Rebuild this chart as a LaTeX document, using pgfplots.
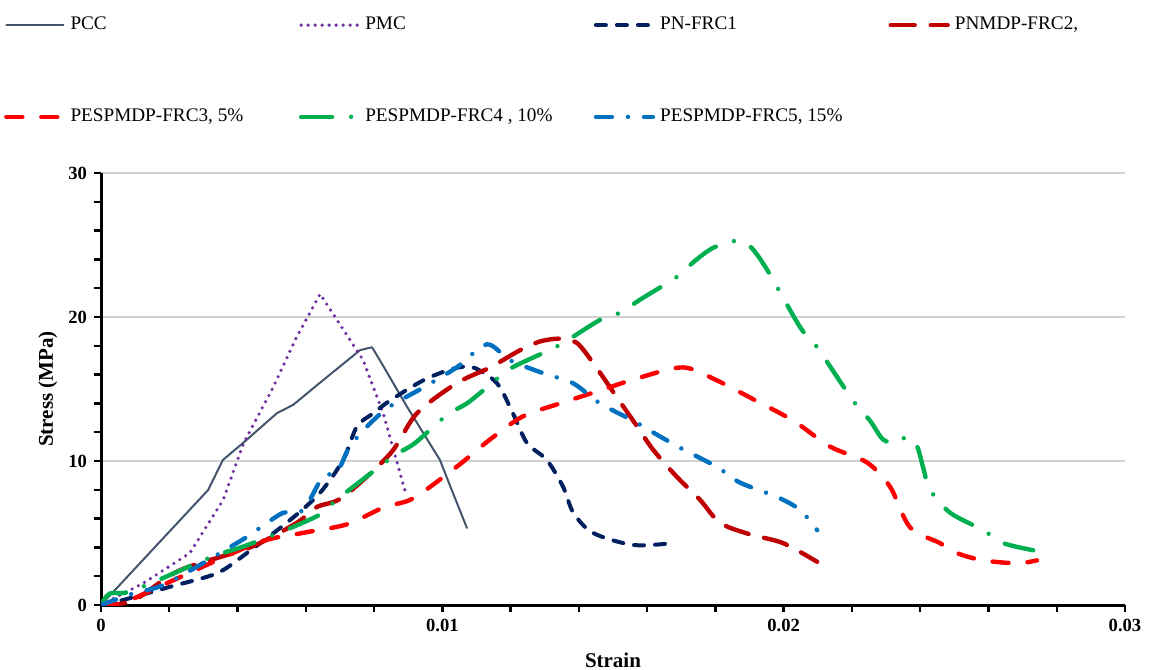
\documentclass[border=0pt]{standalone}
\usepackage{pgfplots}
\pgfplotsset{compat=1.18}
\usepackage{fontspec}
\setmainfont{Liberation Serif}
\definecolor{cPCC}{HTML}{44546A}
\definecolor{cPMC}{HTML}{7030A0}
\definecolor{cF1}{HTML}{002060}
\definecolor{cF2}{HTML}{C00000}
\definecolor{cF3}{HTML}{FF0000}
\definecolor{cF4}{HTML}{00B050}
\definecolor{cF5}{HTML}{0070C0}
\begin{document}
\begin{tikzpicture}
\useasboundingbox (-50.5pt,-32pt) rectangle (526.5pt,302.5pt);
\begin{axis}[
  at={(0pt,0pt)}, anchor=south west,
  scale only axis, width=512pt, height=216pt,
  xmin=0, xmax=0.03, ymin=0, ymax=30,
  axis x line=bottom, axis y line=left,
  axis line style={-, line width=1.5pt, black},
  scaled x ticks=false, scaled y ticks=false,
  xtick={0,0.01,0.02,0.03}, xticklabels={0,0.01,0.02,0.03},
  ytick={0,10,20,30}, yticklabels={0,10,20,30},
  minor x tick num=4, minor y tick num=4,
  tick align=outside,
  major tick length=3.5pt, minor tick length=3.5pt,
  every tick/.style={black, line width=1.2pt},
  ymajorgrids, grid style={black!18, line width=0.7pt},
  ticklabel style={font=\fontsize{9.3}{11}\selectfont\bfseries},
  xlabel={Strain}, ylabel={Stress (MPa)},
  every axis x label/.style={at={(axis description cs:0.5,-0.127)}, anchor=center,
    font=\fontsize{10.5}{12}\selectfont\bfseries},
  every axis y label/.style={at={(axis description cs:-0.052,0.5)}, anchor=center, rotate=90,
    font=\fontsize{10.5}{12}\selectfont\bfseries},
  legend columns=4,
  legend cell align=left,
  legend image code/.code={\draw[#1, line cap=round] (0pt,0pt) -- (28.5pt,0pt);},
  legend style={at={(axis description cs:-0.095,1.373)}, anchor=north west,
    draw=none, fill=none, inner sep=0pt, row sep=33pt,
    font=\fontsize{9.6}{12}\selectfont,
    nodes={inner sep=2.5pt}},
]
% PCC
\addplot[cPCC, line width=1pt, line cap=round, line join=round] coordinates {
(0,0) (0.00314,7.99) (0.00357,10.07) (0.00416,11.25) (0.00516,13.33) (0.00563,13.9)
(0.0065,15.6) (0.00759,17.7) (0.00794,17.9) (0.00817,17.0) (0.00897,13.75)
(0.00993,10.07) (0.01031,7.78) (0.01072,5.35)};
\addlegendentry{\makebox[111.7pt][l]{PCC}}
% PMC
\addplot[cPMC, line width=1.8pt, line cap=round, dash pattern=on 0pt off 3.5pt] coordinates {
(0,0) (0.00123,1.5) (0.0026,3.6) (0.00358,7.3) (0.00417,11.2) (0.00504,15.1)
(0.00573,18.6) (0.00642,21.6) (0.00768,17) (0.00827,13.3) (0.00891,7.9)};
\addlegendentry{\makebox[111.7pt][l]{PMC}}
% PN-FRC1
\addplot[cF1, line width=2pt, line cap=round, dash pattern=on 5pt off 5.5pt, smooth] coordinates {
(0,0) (0.00065,0.35) (0.002,1.25) (0.00339,2.2) (0.00427,3.6) (0.00554,5.9)
(0.00642,7.8) (0.00709,10.07) (0.0075,12.4) (0.00797,13.3) (0.00847,14.2)
(0.00944,15.6) (0.0103,16.4) (0.0109,16.5) (0.0116,15.4) (0.01207,13.3)
(0.01248,11.25) (0.01306,10.07) (0.01354,8.2) (0.01384,6.4) (0.01442,5)
(0.01559,4.17) (0.01676,4.3)};
\addlegendentry{\makebox[111.7pt][l]{PN-FRC1}}
% PNMDP-FRC2
\addplot[cF2, line width=2.2pt, line cap=round, dash pattern=on 12pt off 8pt, smooth] coordinates {
(0,0) (0.00094,0.3) (0.0023,2.4) (0.00437,4.0) (0.00573,5.7) (0.00632,6.8)
(0.00709,7.5) (0.00847,10.5) (0.00925,13.3) (0.01042,15.4) (0.0114,16.5)
(0.01228,17.7) (0.01286,18.3) (0.01345,18.5) (0.01394,18.2) (0.01442,16.8)
(0.01512,14.4) (0.01559,12.8) (0.01617,10.8) (0.01687,8.9) (0.01755,7.3)
(0.01814,5.7) (0.01902,4.9) (0.01998,4.3) (0.02098,3.0)};
\addlegendentry{\makebox[111.7pt][l]{PNMDP-FRC2,}}
% PESPMDP-FRC3
\addplot[cF3, line width=2.2pt, line cap=round, dash pattern=on 8pt off 9.5pt, smooth] coordinates {
(0,0) (0.00065,0.15) (0.0021,1.7) (0.00456,4.3) (0.0059,5.0) (0.0072,5.6)
(0.0083,6.8) (0.00914,7.4) (0.01042,9.6) (0.0114,11.5) (0.01236,13.1)
(0.01345,14) (0.01462,14.9) (0.01579,15.8) (0.01706,16.5) (0.01804,15.6)
(0.01902,14.4) (0.02028,12.8) (0.02136,11) (0.02244,9.9) (0.02312,8.2)
(0.0237,5.4) (0.02458,4.3) (0.02508,3.6) (0.02584,3.1) (0.02684,2.9) (0.02742,3.1)};
\addlegendentry{\makebox[111.7pt][l]{PESPMDP-FRC3, 5\%}}
% PESPMDP-FRC4
\addplot[cF4, line width=2.2pt, line cap=round, dash pattern=on 15.5pt off 9.5pt on 0pt off 9.5pt, smooth] coordinates {
(0,0) (0.00026,0.8) (0.00094,1.0) (0.0032,3.3) (0.0041,4.0) (0.0052,5.0)
(0.0059,5.7) (0.0065,6.4) (0.0069,7.3) (0.0081,9.5) (0.00867,10.5) (0.0092,11.25)
(0.01014,13.2) (0.01072,14) (0.0113,15.1) (0.01198,16.4) (0.01295,17.5)
(0.01354,18.2) (0.01462,19.8) (0.01521,20.3) (0.01579,21.2) (0.01688,22.8)
(0.01735,23.8) (0.01793,24.8) (0.01863,25.3) (0.01902,24.9) (0.01951,23.3)
(0.02048,19.3) (0.02098,17.9) (0.02203,14.2) (0.02253,12.8) (0.02291,11.5)
(0.02332,11.25) (0.02362,11.7) (0.02391,11.0) (0.02408,9.6) (0.02429,8.0)
(0.02488,6.4) (0.02584,5.2) (0.02643,4.3) (0.02731,3.8)};
\addlegendentry{\makebox[111.7pt][l]{PESPMDP-FRC4 , 10\%}}
% PESPMDP-FRC5
\addplot[cF5, line width=2.2pt, line cap=round, dash pattern=on 8pt off 8pt on 0pt off 8pt, smooth] coordinates {
(0,0) (0.00094,0.8) (0.00193,1.5) (0.00398,4.3) (0.00456,5.2) (0.00533,6.4)
(0.00592,6.6) (0.0065,8.9) (0.00691,9.2) (0.00729,11) (0.00788,12.6)
(0.00847,13.8) (0.00944,15.1) (0.01042,16.5) (0.0113,18.1) (0.01198,17.0)
(0.01295,16.1) (0.01383,15.4) (0.01462,14) (0.01559,12.8) (0.01638,11.7)
(0.01706,10.8) (0.01804,9.6) (0.01872,8.5) (0.01981,7.5) (0.02048,6.6) (0.02098,5.2)};
\addlegendentry{\makebox[111.7pt][l]{PESPMDP-FRC5, 15\%}}
\end{axis}
\end{tikzpicture}
\end{document}
